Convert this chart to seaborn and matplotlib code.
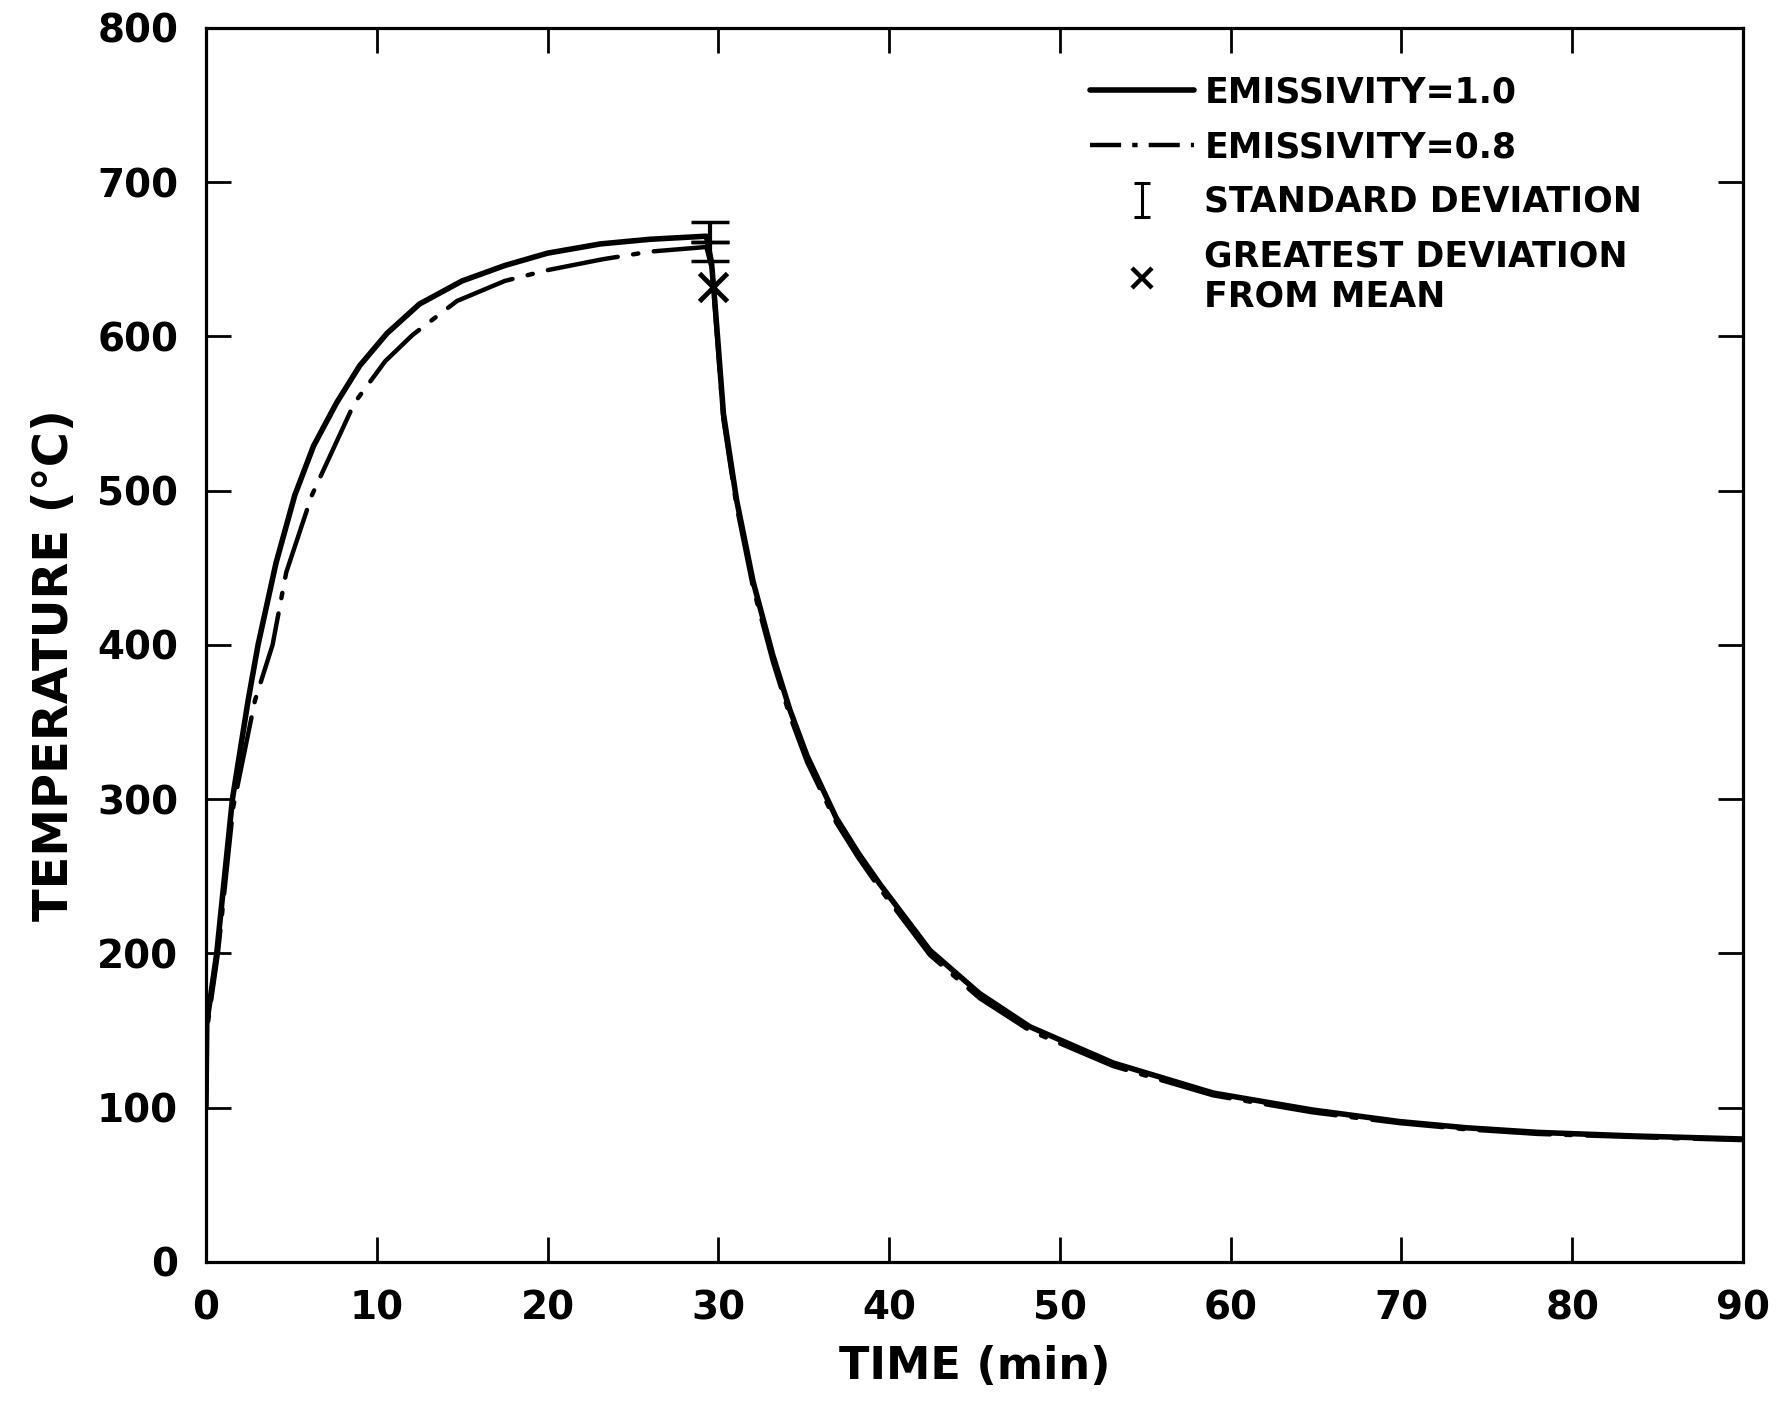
import matplotlib
matplotlib.use("Agg")
import matplotlib.pyplot as plt
import seaborn as sns
import pandas as pd
import numpy as np
from matplotlib.lines import Line2D
from matplotlib.path import Path

# ---------------- data ----------------
time_e10 = [0.0, 0.05, 0.63, 1.55, 2.47, 3.05, 4.1, 5.2, 6.3, 7.65, 9.0, 10.6, 12.5,
            15.0, 17.5, 20.0, 23.1, 26.0, 29.3, 29.6,
            29.8, 30.3, 31.07, 32.04, 33.2, 34.19, 35.2, 36.9, 38.2, 39.46, 42.39,
            45.3, 48.24, 53.12, 58.98, 64.8, 69.9, 73.8, 78.0, 83.6, 90.0]
temp_e10 = [100, 155, 200, 300, 364, 400, 453, 497, 529, 557, 581, 602, 621,
            636, 646, 654, 660, 663, 665, 648,
            622, 550, 494, 441, 393, 358, 328, 288, 265, 245, 202,
            174, 152.5, 129, 109.5, 98.5, 91, 87, 84, 81.7, 79.7]

time_e08 = [0.0, 0.05, 0.7, 1.6, 2.87, 3.9, 4.7, 6.2, 8.7, 10.5, 12.1, 14.7,
            17.5, 20.0, 23.2, 26.0, 29.3, 29.6,
            29.8, 30.3, 31.07, 32.04, 33.2, 34.19, 35.2, 36.9, 38.2, 39.46, 42.39,
            45.3, 48.24, 53.12, 58.98, 64.8, 69.9, 73.8, 78.0, 83.6, 90.0]
temp_e08 = [100, 150, 200, 295, 364, 400, 447, 497, 557, 584, 601, 623,
            636, 643, 650, 655, 658, 645,
            618, 546, 490, 437, 389, 354, 324, 285, 262, 242, 199,
            171, 150, 127, 108, 97, 90, 86, 83, 81, 79]

std_time = [29.5, 29.5]
std_mean = [667.5, 655.0]
std_err = [6.5, 6.0]

greatest_time = [29.7]
greatest_temp = [632]

x_ticks = [0, 10, 20, 30, 40, 50, 60, 70, 80, 90]
y_ticks = [0, 100, 200, 300, 400, 500, 600, 700, 800]

labels = ["EMISSIVITY=1.0", "EMISSIVITY=0.8", "STANDARD DEVIATION",
          "GREATEST DEVIATION\nFROM MEAN"]

# ---------------- plotting ----------------
sns.set_theme(style="ticks")
plt.rcParams["font.family"] = ["DejaVu Sans"]
plt.rcParams["font.weight"] = "bold"
plt.rcParams["text.color"] = "black"
plt.rcParams["axes.labelcolor"] = "black"
plt.rcParams["xtick.color"] = "black"
plt.rcParams["ytick.color"] = "black"

fig = plt.figure(figsize=(17.83, 14.05), dpi=100)
ax = fig.add_axes([0.1155, 0.1018, 0.9776 - 0.1155, 0.9801 - 0.1018])

df10 = pd.DataFrame({"t": time_e10, "T": temp_e10})
df08 = pd.DataFrame({"t": time_e08, "T": temp_e08})

sns.lineplot(data=df10, x="t", y="T", ax=ax, color="black", lw=4.0,
             estimator=None, sort=False)
sns.lineplot(data=df08, x="t", y="T", ax=ax, color="black", lw=3.2,
             estimator=None, sort=False, dashes=False)
ax.lines[-1].set_linestyle((0, (16, 3.5, 1.2, 3.5)))
ax.lines[-1].set_dash_capstyle("round")
for ln in ax.lines:
    ln.set_solid_joinstyle("round")

eb = ax.errorbar(std_time, std_mean, yerr=std_err, fmt="none", ecolor="black",
                 elinewidth=3.0, capsize=14, capthick=2.5)
ax.plot(greatest_time, greatest_temp, linestyle="none", marker="x",
        markersize=20, mew=3.5, color="black")

ax.set_xlim(0, 90)
ax.set_ylim(0, 800)
ax.set_xticks(x_ticks)
ax.set_yticks(y_ticks)
ax.tick_params(direction="in", length=18, width=2, top=True, right=True,
               labelsize=28, pad=20, colors="black")
for lab in ax.get_xticklabels() + ax.get_yticklabels():
    lab.set_fontweight("bold")
for sp in ax.spines.values():
    sp.set_linewidth(2.3)
    sp.set_color("black")

ax.set_xlabel("TIME (min)", fontsize=32, fontweight="bold")
ax.set_ylabel("TEMPERATURE (°C)", fontsize=34.5, fontweight="bold")
ax.xaxis.set_label_coords(0.5, -0.067)
ax.yaxis.set_label_coords(-0.083, 0.484)

# legend
ibeam = Path([(-0.5, -1), (0.5, -1), (0, -1), (0, 1), (-0.5, 1), (0.5, 1)],
             [Path.MOVETO, Path.LINETO, Path.MOVETO, Path.LINETO,
              Path.MOVETO, Path.LINETO])
h1 = Line2D([], [], color="black", lw=4.0)
h2 = Line2D([], [], color="black", lw=3.2, linestyle=(0, (7, 2.5, 1.2, 2.5)))
h3 = Line2D([], [], color="black", lw=0, marker=ibeam, markersize=24,
            markerfacecolor="none", markeredgecolor="black", mew=2.2)
h4 = Line2D([], [], color="black", lw=0, marker="x", markersize=15, mew=3.2)
leg = ax.legend([h1, h2, h3, h4], labels, loc="upper left",
                bbox_to_anchor=(0.566, 0.973), frameon=False,
                prop={"size": 25, "weight": "bold"}, handlelength=3.0,
                handletextpad=0.3, labelspacing=0.6, borderaxespad=0,
                labelcolor="black")

fig.savefig("out.png", dpi=100, facecolor="white")
